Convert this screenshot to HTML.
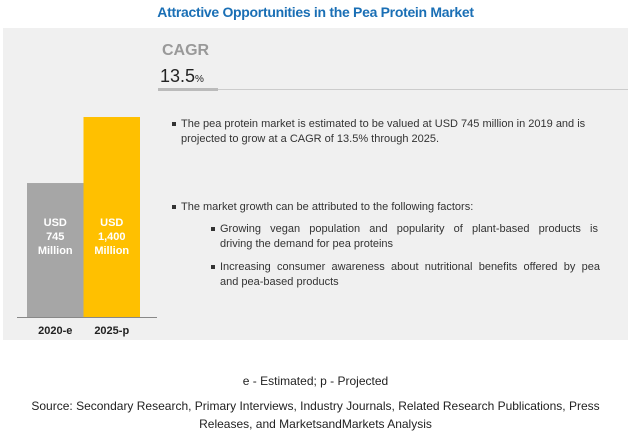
<!DOCTYPE html>
<html><head><meta charset="utf-8"><style>
body{margin:0;width:631px;height:439px;background:#fff;font-family:"Liberation Sans",sans-serif;position:relative;overflow:hidden}
.a{position:absolute}
.t{font-size:11px;color:#333;line-height:15px}
.b::before{content:"";position:absolute;left:-9px;top:5px;width:4px;height:4px;background:#333}
.j{display:block;text-align:justify;text-align-last:justify}
</style></head><body>
<div class="a" style="left:0;width:631px;top:4px;text-align:center;color:#1a6fb5;font-weight:bold;font-size:14px;letter-spacing:-0.3px">Attractive Opportunities in the Pea Protein Market</div>
<div class="a" style="left:3px;top:28px;width:625px;height:312px;background:#f0f0f0"></div>
<div class="a" style="left:162px;top:42px;font-size:16px;font-weight:bold;color:#999">CAGR</div>
<div class="a" style="left:160px;top:66px;font-size:18px;color:#222">13.5<span style="font-size:10px">%</span></div>
<div class="a" style="left:158px;top:88px;width:60px;height:3px;background:#bbb"></div>
<div class="a" style="left:218px;top:89px;width:410px;height:1px;background:#ccc"></div>
<svg class="a" style="left:0;top:0" width="631" height="439" id="svg"></svg>
<div class="a t b" style="left:181px;top:117px;width:420px">The pea protein market is estimated to be valued at USD 745 million in 2019 and is projected to grow at a CAGR of 13.5% through 2025.</div>
<div class="a t b" style="left:181px;top:200px;width:420px">The market growth can be attributed to the following factors:</div>
<div class="a t b" style="left:220px;top:222px;width:378px"><span class="j">Growing vegan population and popularity of plant-based products is</span>driving the demand for pea proteins</div>
<div class="a t b" style="left:220px;top:260px;width:380px"><span class="j">Increasing consumer awareness about nutritional benefits offered by pea</span>and pea-based products</div>
<div class="a" style="left:0;width:631px;top:374px;text-align:center;font-size:12px;color:#222">e - Estimated; p - Projected</div>
<div class="a" style="left:0;width:631px;top:397px;text-align:center;font-size:12px;color:#222;line-height:18px">Source: Secondary Research, Primary Interviews, Industry Journals, Related Research Publications, Press<br>Releases, and MarketsandMarkets Analysis</div>
<script>
const categories=["2020-e","2025-p"];
const values=[745,1400];
const valueLabels=[["USD","745","Million"],["USD","1,400","Million"]];
const colors=["#a6a6a6","#ffc000"];
const NS="http://www.w3.org/2000/svg";
const svg=document.getElementById("svg");
const base=317,x0=27,bw=56.5;
function y(v){return base-(v+584)*0.1008;}
function mk(t,a){const e=document.createElementNS(NS,t);for(const k in a)e.setAttribute(k,a[k]);svg.appendChild(e);return e;}
categories.forEach((c,i)=>{
 const r=mk("rect",{x:x0+i*bw,y:y(values[i]),width:bw,height:base-y(values[i]),fill:colors[i]});
 
 
 valueLabels[i].forEach((s,j)=>{
  const t=mk("text",{x:x0+i*bw+bw/2,y:226+j*14,"text-anchor":"middle","font-size":"11","font-weight":"bold",fill:"#fff","font-family":"Liberation Sans"});
  t.textContent=s;
  
  
 });
 const l=mk("text",{x:x0+i*bw+bw/2,y:334,"text-anchor":"middle","font-size":"11","font-weight":"bold",fill:"#222","font-family":"Liberation Sans"});
 l.textContent=c;
 
 
});
const ax=mk("line",{x1:17,x2:157,y1:base+0.5,y2:base+0.5,stroke:"#888","stroke-width":1});


</script>
</body></html>
